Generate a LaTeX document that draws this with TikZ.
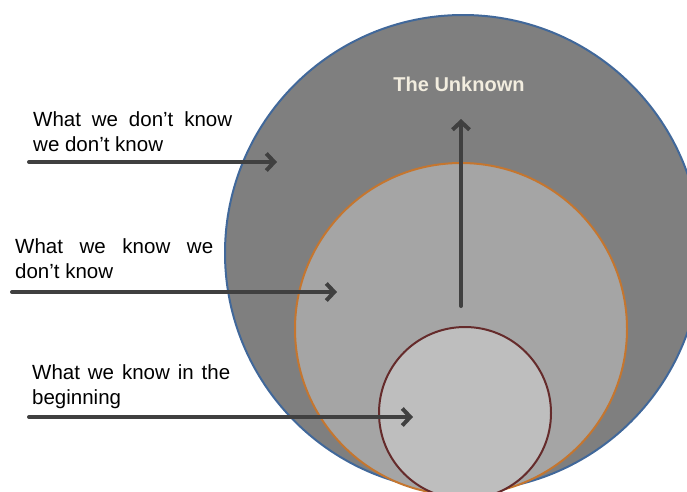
\documentclass[tikz,border=0pt]{standalone}
\usepackage{fontspec}
\setmainfont{Liberation Sans}
\usetikzlibrary{arrows.meta}
\definecolor{outerfill}{HTML}{7F7F7F}
\definecolor{outerline}{HTML}{41689A}
\definecolor{midfill}{HTML}{A5A5A5}
\definecolor{midline}{HTML}{C5762F}
\definecolor{innerfill}{HTML}{BEBEBE}
\definecolor{innerline}{HTML}{652B2B}
\definecolor{arrowgray}{HTML}{404040}
\definecolor{titlecream}{HTML}{F2EDDF}

\begin{document}
\begin{tikzpicture}[x=1pt,y=-1pt,every node/.style={font=\fontsize{20.5}{25}\selectfont},zone/.style={circle,inner sep=0pt,line width=2pt},sidetext/.style={anchor=north west,inner sep=0pt,align=left},arr/.style={-{Straight Barb[length=8pt,width=17pt]},line width=4pt,draw=arrowgray,line cap=round}]
\clip (0,0) rectangle (687,491);
% nested regions of knowledge
\node[zone,draw=outerline,fill=outerfill,minimum size=476pt] (unknown) at (463,253) {};
\node[zone,draw=midline,fill=midfill,minimum size=332pt] (known) at (461,329) {};
\node[zone,draw=innerline,fill=innerfill,minimum size=172pt] (start) at (465,413) {};
\node[font=\fontsize{20}{25}\selectfont\bfseries,text=titlecream] (title) at (459,84) {The Unknown};
% captions on the left
\node[sidetext] (unk) at (33,111) {\makebox[199pt][s]{What we don’t know}\\we don’t know};
\node[sidetext] (kdk) at (15,238) {\makebox[198pt][s]{What we know we}\\don’t know};
\node[sidetext] (beg) at (32,364) {\makebox[198pt][s]{What we know in the}\\beginning};
% pointers
\coordinate (a1) at (29,162); \coordinate (b1) at (277,162);
\coordinate (a2) at (12,292); \coordinate (b2) at (337,292);
\coordinate (a3) at (29,417); \coordinate (b3) at (413,417);
\coordinate (g0) at (461,306); \coordinate (g1) at (461,119);
\draw[arr] (a1) -- (b1);\draw[arr] (a2) -- (b2);\draw[arr] (a3) -- (b3);
\draw[arr] (g0) -- (g1);
\end{tikzpicture}
\end{document}
